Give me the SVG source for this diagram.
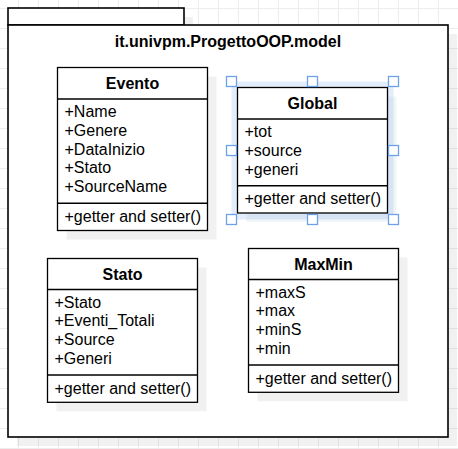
<svg xmlns="http://www.w3.org/2000/svg" width="458" height="449" viewBox="0 0 458 449">
<defs>
<pattern id="grid" x="-2" y="8" width="20" height="20" patternUnits="userSpaceOnUse">
<path d="M0.5 0V20M0 0.5H20" fill="none" stroke="#ededed" stroke-width="1"/>
</pattern>
<style>
.box{fill:#fff;stroke:#000;stroke-width:1.3}
.pkg{fill:#fff;stroke:#000;stroke-width:1.6}
.sh{fill:#000;opacity:0.055}
.ln{stroke:#000;stroke-width:1.3}
.t{font-family:"Liberation Sans",Arial,sans-serif;font-size:16px;fill:#000}
.b{font-weight:bold;text-anchor:middle}
.h{fill:#fff;stroke:#6fa0ea;stroke-width:1.3}
</style>
</defs>
<rect width="458" height="449" fill="#fff"/>
<rect width="458" height="449" fill="url(#grid)"/>

<g id="package">
<rect class="sh" x="17" y="17" width="176" height="17"/>
<rect class="sh" x="17" y="34" width="440" height="412"/>
<rect class="pkg" x="8" y="8" width="176" height="17"/>
<rect class="pkg" x="8" y="25" width="440" height="412"/>
<text class="t b" x="228" y="47">it.univpm.ProgettoOOP.model</text>
</g>

<g id="Evento">
<rect class="sh" x="66.5" y="76.5" width="150" height="163"/>
<rect class="box" x="57.5" y="67.5" width="150" height="163"/>
<line class="ln" x1="57.5" y1="99" x2="207.5" y2="99"/>
<line class="ln" x1="57.5" y1="203.25" x2="207.5" y2="203.25"/>
<text class="t b" x="132.5" y="89">Evento</text>
<text class="t" x="64.5" y="117">+Name</text>
<text class="t" x="64.5" y="135.75">+Genere</text>
<text class="t" x="64.5" y="154.5">+DataInizio</text>
<text class="t" x="64.5" y="173.25">+Stato</text>
<text class="t" x="64.5" y="192">+SourceName</text>
<text class="t" x="64.5" y="221.75">+getter and setter()</text>
</g>

<g id="Global">
<rect x="231.5" y="81.5" width="162" height="138" fill="#e3edfb"/>
<rect x="246.5" y="96.5" width="150" height="125.5" fill="#1e4f8f" opacity="0.06"/>
<rect class="box" x="237.5" y="87.5" width="150" height="125.5"/>
<line class="ln" x1="237.5" y1="119" x2="387.5" y2="119"/>
<line class="ln" x1="237.5" y1="185.75" x2="387.5" y2="185.75"/>
<text class="t b" x="312.5" y="109">Global</text>
<text class="t" x="244.5" y="137">+tot</text>
<text class="t" x="244.5" y="155.75">+source</text>
<text class="t" x="244.5" y="174.5">+generi</text>
<text class="t" x="244.5" y="204.25">+getter and setter()</text>
<rect class="h" x="226.5" y="76.5" width="10" height="10"/>
<rect class="h" x="307.5" y="76.5" width="10" height="10"/>
<rect class="h" x="388.5" y="76.5" width="10" height="10"/>
<rect class="h" x="226.5" y="145.5" width="10" height="10"/>
<rect class="h" x="388.5" y="145.5" width="10" height="10"/>
<rect class="h" x="226.5" y="214.5" width="10" height="10"/>
<rect class="h" x="307.5" y="214.5" width="10" height="10"/>
<rect class="h" x="388.5" y="214.5" width="10" height="10"/>
</g>

<g id="Stato">
<rect class="sh" x="56.5" y="267.5" width="150" height="143.8"/>
<rect class="box" x="47.5" y="258.5" width="150" height="143.8"/>
<line class="ln" x1="47.5" y1="289.5" x2="197.5" y2="289.5"/>
<line class="ln" x1="47.5" y1="375" x2="197.5" y2="375"/>
<text class="t b" x="122.5" y="280">Stato</text>
<text class="t" x="54.5" y="307.5">+Stato</text>
<text class="t" x="54.5" y="326.25">+Eventi_Totali</text>
<text class="t" x="54.5" y="345">+Source</text>
<text class="t" x="54.5" y="363.75">+Generi</text>
<text class="t" x="54.5" y="393.5">+getter and setter()</text>
</g>

<g id="MaxMin">
<rect class="sh" x="257.5" y="257.5" width="150" height="143.8"/>
<rect class="box" x="248.5" y="248.5" width="150" height="143.8"/>
<line class="ln" x1="248.5" y1="279.5" x2="398.5" y2="279.5"/>
<line class="ln" x1="248.5" y1="365" x2="398.5" y2="365"/>
<text class="t b" x="323.5" y="270">MaxMin</text>
<text class="t" x="255.5" y="297.5">+maxS</text>
<text class="t" x="255.5" y="316.25">+max</text>
<text class="t" x="255.5" y="335">+minS</text>
<text class="t" x="255.5" y="353.75">+min</text>
<text class="t" x="255.5" y="383.5">+getter and setter()</text>
</g>

<g id="connectors"></g>
</svg>
